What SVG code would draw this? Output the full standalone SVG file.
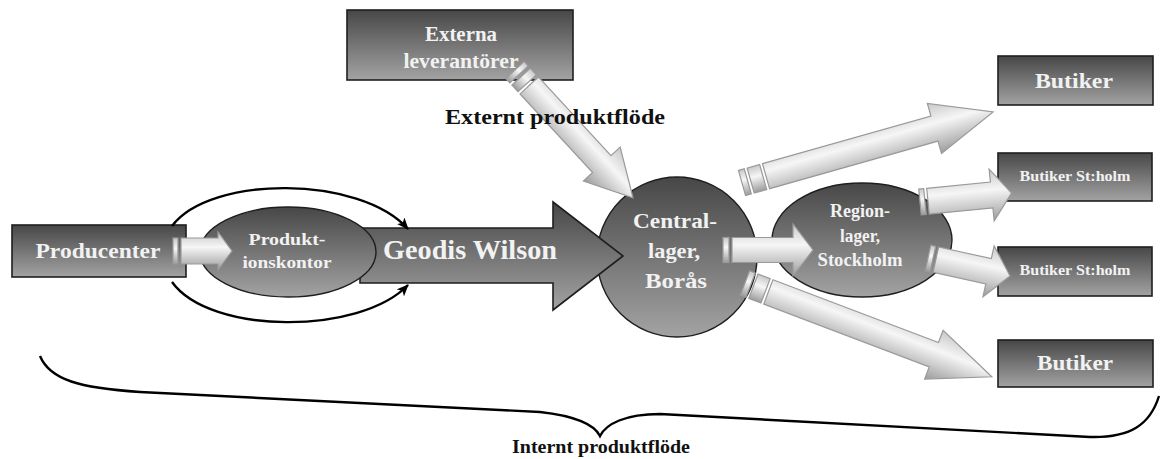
<svg xmlns="http://www.w3.org/2000/svg" width="1161" height="459" viewBox="0 0 1161 459">
<defs>
  <linearGradient id="dark" x1="0" y1="0" x2="0" y2="1">
    <stop offset="0" stop-color="#474747"/>
    <stop offset="1" stop-color="#a3a3a3"/>
  </linearGradient>
  <linearGradient id="lightv" x1="0" y1="0" x2="0" y2="1">
    <stop offset="0" stop-color="#c8c8c8"/>
    <stop offset="0.4" stop-color="#f6f6f6"/>
    <stop offset="1" stop-color="#9c9c9c"/>
  </linearGradient>
  <marker id="ah" viewBox="0 0 12 10" refX="11" refY="5" markerWidth="12" markerHeight="10" markerUnits="userSpaceOnUse" orient="auto">
    <path d="M0,0 L12,5 L0,10 L3,5 Z" fill="#000"/>
  </marker>
  <style>
    .box{fill:url(#dark);stroke:#1e1e1e;stroke-width:1.6}
    .oval{fill:url(#dark);stroke:#1e1e1e;stroke-width:1.4}
    .la{fill:url(#lightv);stroke:#9a9a9a;stroke-width:1.2}
    .lbl{font-family:"Liberation Serif","Times New Roman",serif;font-weight:bold;fill:#f2f2f2;text-anchor:middle}
    .cap{font-family:"Liberation Serif","Times New Roman",serif;font-weight:bold;fill:#111;text-anchor:middle}
    .curve{fill:none;stroke:#000;stroke-width:2.4}
  </style>
</defs>

<g id="producenter">
  <rect class="box" x="12" y="225" width="174" height="52"/>
  <text class="lbl" x="98" y="258" font-size="22" textLength="125" lengthAdjust="spacingAndGlyphs">Producenter</text>
</g>

<g id="externa-leverantorer">
  <rect class="box" x="347" y="10" width="226" height="70"/>
  <text class="lbl" x="461" y="41" font-size="21" textLength="72" lengthAdjust="spacingAndGlyphs">Externa</text>
  <text class="lbl" x="461" y="68" font-size="21" textLength="115" lengthAdjust="spacingAndGlyphs">leverantörer</text>
</g>

<g id="centrallager">
  <circle class="oval" cx="677" cy="257" r="80"/>
  <text class="lbl" x="675" y="228" font-size="22" textLength="84" lengthAdjust="spacingAndGlyphs">Central-</text>
  <text class="lbl" x="674" y="258" font-size="22" textLength="52" lengthAdjust="spacingAndGlyphs">lager,</text>
  <text class="lbl" x="676" y="288" font-size="22" textLength="62" lengthAdjust="spacingAndGlyphs">Borås</text>
</g>

<g id="regionlager">
  <ellipse class="oval" cx="862" cy="240" rx="90" ry="57"/>
  <text class="lbl" x="860" y="217" font-size="18" textLength="60" lengthAdjust="spacingAndGlyphs">Region-</text>
  <text class="lbl" x="860" y="242" font-size="18" textLength="40" lengthAdjust="spacingAndGlyphs">lager,</text>
  <text class="lbl" x="860" y="266" font-size="18" textLength="85" lengthAdjust="spacingAndGlyphs">Stockholm</text>
</g>

<g id="geodis-wilson">
  <polygon class="box" points="360,228 553,228 553,202 623,256 553,310 553,283 360,283"/>
  <text class="lbl" x="470" y="259" font-size="27" textLength="174" lengthAdjust="spacingAndGlyphs">Geodis Wilson</text>
</g>

<g id="produktionskontor">
  <ellipse class="oval" cx="288" cy="252" rx="88" ry="45"/>
  <text class="lbl" x="287" y="245" font-size="17" textLength="77" lengthAdjust="spacingAndGlyphs">Produkt-</text>
  <text class="lbl" x="287" y="268" font-size="17" textLength="89" lengthAdjust="spacingAndGlyphs">ionskontor</text>
</g>

<g id="butiker-1">
  <rect class="box" x="998" y="56" width="155" height="49"/>
  <text class="lbl" x="1074" y="88" font-size="21" textLength="78" lengthAdjust="spacingAndGlyphs">Butiker</text>
</g>
<g id="butiker-stholm-1">
  <rect class="box" x="998" y="153" width="154" height="48"/>
  <text class="lbl" x="1075" y="181" font-size="14" textLength="111" lengthAdjust="spacingAndGlyphs">Butiker St:holm</text>
</g>
<g id="butiker-stholm-2">
  <rect class="box" x="998" y="247" width="154" height="49"/>
  <text class="lbl" x="1075" y="275" font-size="14" textLength="111" lengthAdjust="spacingAndGlyphs">Butiker St:holm</text>
</g>
<g id="butiker-2">
  <rect class="box" x="998" y="340" width="155" height="47"/>
  <text class="lbl" x="1075" y="370" font-size="21" textLength="76" lengthAdjust="spacingAndGlyphs">Butiker</text>
</g>

<g id="connectors">
  <!-- Producenter -> Produktionskontor -->
  <g transform="translate(173,251)">
    <rect class="la" x="0" y="-13" width="5" height="26"/>
    <polygon class="la" points="8,-13 45,-13 45,-19 59,0 45,19 45,13 8,13"/>
  </g>
  <!-- bypass curves -->
  <path class="curve" d="M172,226 C210,175 360,175 408,229" marker-end="url(#ah)"/>
  <path class="curve" d="M172,282 C210,335 360,335 408,285" marker-end="url(#ah)"/>
  <!-- Externa -> Central -->
  <g transform="translate(515,70) rotate(47.3)">
    <rect class="la" x="0" y="-12.5" width="6" height="25"/>
    <rect class="la" x="9" y="-12.5" width="9" height="25"/>
    <polygon class="la" points="21,-12.5 128,-12.5 128,-25 174,0 128,25 128,12.5 21,12.5"/>
  </g>
  <!-- Central -> Region -->
  <g transform="translate(723,250)">
    <rect class="la" x="0" y="-12.5" width="6" height="25"/>
    <polygon class="la" points="9,-12.5 70,-12.5 70,-26 90,0 70,26 70,12.5 9,12.5"/>
  </g>
  <!-- Central -> Butiker top -->
  <g transform="translate(742,183) rotate(-15.8)">
    <rect class="la" x="0" y="-13" width="6" height="26"/>
    <rect class="la" x="9" y="-13" width="13" height="26"/>
    <polygon class="la" points="25,-13 200,-13 200,-26 261,0 200,26 200,13 25,13"/>
  </g>
  <!-- Central -> Butiker bottom -->
  <g transform="translate(745,283) rotate(20.8)">
    <rect class="la" x="0" y="-13" width="6" height="26"/>
    <rect class="la" x="9" y="-13" width="13" height="26"/>
    <polygon class="la" points="25,-13 202,-13 202,-26 264,0 202,26 202,13 25,13"/>
  </g>
  <!-- Region -> Butiker St:holm 1 -->
  <g transform="translate(920,202) rotate(-5.6)">
    <rect class="la" x="0" y="-13" width="5" height="26"/>
    <polygon class="la" points="8,-13 72,-13 72,-26 92,0 72,26 72,13 8,13"/>
  </g>
  <!-- Region -> Butiker St:holm 2 -->
  <g transform="translate(928,258) rotate(12.4)">
    <rect class="la" x="0" y="-13" width="5" height="26"/>
    <polygon class="la" points="8,-13 62,-13 62,-26 84,0 62,26 62,13 8,13"/>
  </g>
  <!-- brace -->
  <path class="curve" d="M40,356 C50,380 80,388 140,392 L540,412 C575,416 594,424 600,436 C606,424 625,414 660,414 L1090,437 C1130,438 1150,425 1159,396"/>
</g>

<text class="cap" x="555" y="124" font-size="20" textLength="220" lengthAdjust="spacingAndGlyphs">Externt produktflöde</text>
<text class="cap" x="601" y="453" font-size="19" textLength="178" lengthAdjust="spacingAndGlyphs">Internt produktflöde</text>
</svg>
